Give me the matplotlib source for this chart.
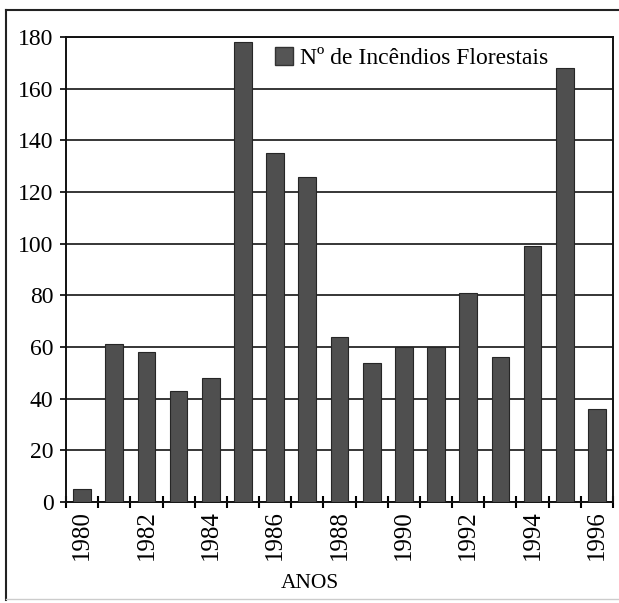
import numpy as np
import matplotlib
matplotlib.use('Agg')
import matplotlib.pyplot as plt
from matplotlib.lines import Line2D

plt.rcParams['font.family'] = ['Liberation Serif', 'DejaVu Serif']

# numero de incendios florestais por ano
anos = [1980, 1981, 1982, 1983, 1984, 1985, 1986, 1987, 1988,
        1989, 1990, 1991, 1992, 1993, 1994, 1995, 1996]
incendios = [5, 61, 58, 43, 48, 178, 135, 126, 64,
             54, 60, 60, 81, 56, 99, 168, 36]
y_ticks = [0, 20, 40, 60, 80, 100, 120, 140, 160, 180]
legenda = 'Nº de Incêndios Florestais'

fig = plt.figure(figsize=(6.19, 6.03), dpi=100)
ax = fig.add_axes([0.1066, 0.1675, 0.8837, 0.7711])

x = np.arange(len(anos))
ax.bar(x, incendios, width=0.55, color='#4f4f4f', edgecolor='#262626',
       linewidth=0.8, zorder=3)

ax.set_xlim(-0.5, len(anos) - 0.5)
ax.set_ylim(0, 180)
ax.set_yticks(y_ticks)
ax.yaxis.grid(True, color='black', linewidth=1.1, zorder=1)
ax.tick_params(axis='y', labelsize=17, length=4, width=1.2, direction='out', pad=5)

# ticks nas fronteiras das categorias, rotulos so nos anos pares
ax.set_xticks(np.arange(-0.5, len(anos), 1.0))
ax.set_xticklabels([])
ax.set_xticks(x[::2], minor=True)
ax.set_xticklabels([str(a) for a in anos[::2]], minor=True, rotation=90, fontsize=18)
ax.tick_params(axis='x', which='major', direction='inout', length=9, width=1.5)
ax.tick_params(axis='x', which='minor', length=0, pad=6)

for s in ax.spines.values():
    s.set_linewidth(1.4)
    s.set_color('#111111')

ax.set_xlabel('ANOS', fontsize=15.5, labelpad=10)
ax.xaxis.set_label_coords(0.446, -0.155)

handle = Line2D([], [], marker='s', linestyle='none', markersize=13,
                markerfacecolor='#555555', markeredgecolor='#333333')
ax.legend([handle], [legenda], loc='upper left', bbox_to_anchor=(0.342, 1.008),
          frameon=False, fontsize=17, handletextpad=0.0, handlelength=1.4,
          borderaxespad=0.2)

# moldura exterior
fig.add_artist(Line2D([0.01, 1.0], [0.983, 0.983], transform=fig.transFigure,
                      color='#222222', linewidth=1.5))
fig.add_artist(Line2D([0.01, 0.01], [0.005, 0.983], transform=fig.transFigure,
                      color='#222222', linewidth=1.5))
fig.add_artist(Line2D([0.01, 1.0], [0.006, 0.006], transform=fig.transFigure,
                      color='#cccccc', linewidth=1.0))

fig.savefig('out.png', dpi=100)
